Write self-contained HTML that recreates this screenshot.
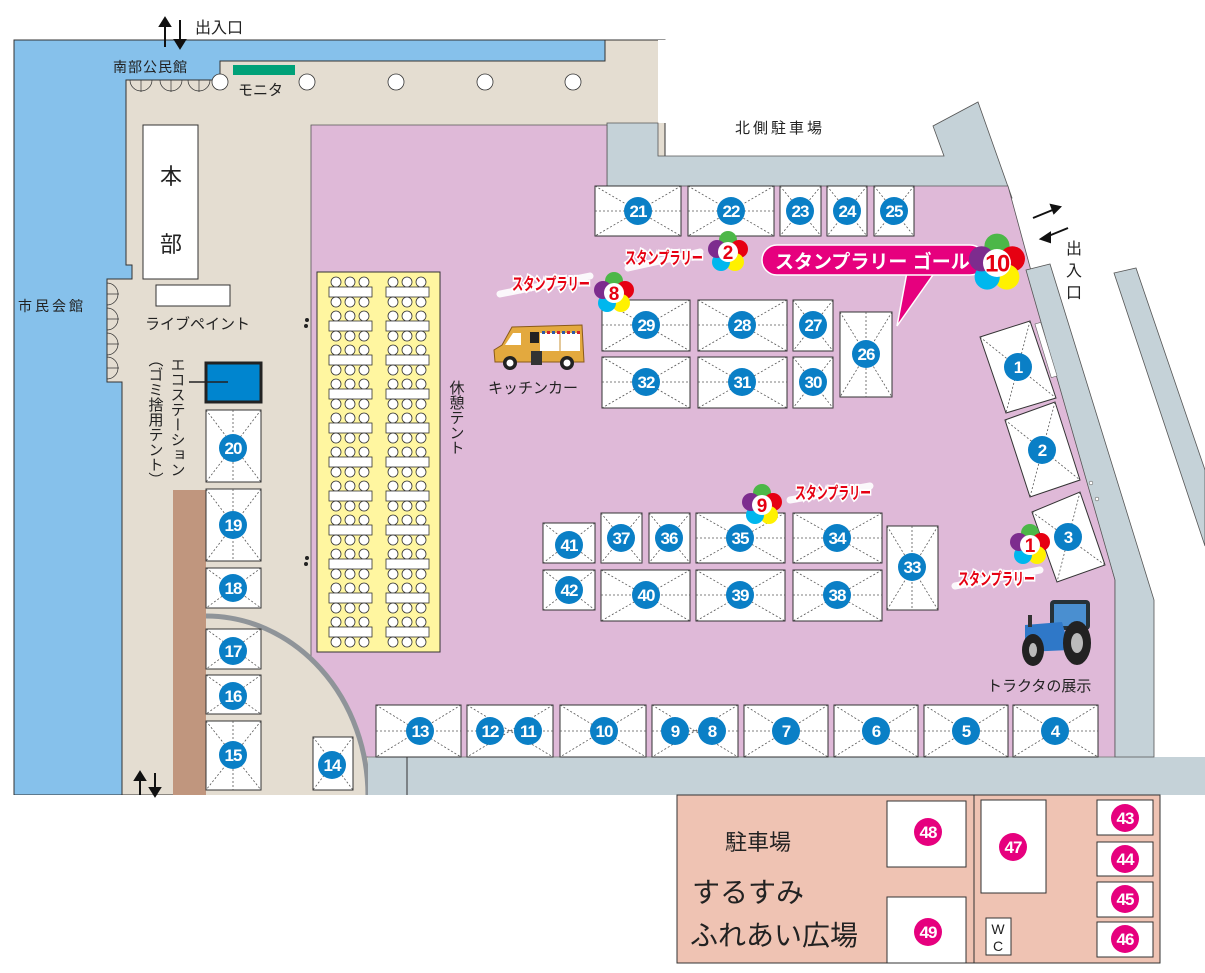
<!DOCTYPE html>
<html><head><meta charset="utf-8"><style>
html,body{margin:0;padding:0;background:#fff}
svg{display:block}
text{font-family:"Liberation Sans","Noto Sans CJK JP",sans-serif}
.n{font-weight:bold;font-size:17px;fill:#fff;text-anchor:middle;letter-spacing:-1px}
.m{font-weight:bold;font-size:17px;fill:#fff;text-anchor:middle;letter-spacing:-1px}
.bx{fill:#fff;stroke:#333;stroke-width:1}
.dg{stroke:#555;stroke-width:0.8;stroke-dasharray:2 2;fill:none}
.sr{font-size:17px;font-weight:bold;fill:#e60012;stroke:#fff;stroke-width:4;paint-order:stroke}
</style></head><body>
<svg width="1205" height="973" viewBox="0 0 1205 973" xmlns="http://www.w3.org/2000/svg">
<defs>
<pattern id="ch1" patternUnits="userSpaceOnUse" x="326" y="276" width="60" height="34">
<circle cx="10" cy="6" r="5" fill="#fff" stroke="#333" stroke-width="0.8"/><circle cx="24" cy="6" r="5" fill="#fff" stroke="#333" stroke-width="0.8"/><circle cx="38" cy="6" r="5" fill="#fff" stroke="#333" stroke-width="0.8"/>
<rect x="3" y="11" width="43" height="10" fill="#fff" stroke="#333" stroke-width="0.8"/>
<circle cx="10" cy="26" r="5" fill="#fff" stroke="#333" stroke-width="0.8"/><circle cx="24" cy="26" r="5" fill="#fff" stroke="#333" stroke-width="0.8"/><circle cx="38" cy="26" r="5" fill="#fff" stroke="#333" stroke-width="0.8"/>
</pattern>
<pattern id="ch2" href="#ch1" x="383" y="276"/>
</defs>

<rect x="14" y="40" width="600" height="755" fill="#86c1eb" stroke="#333" stroke-width="1"/>
<polygon points="126,80 220,80 220,61 605,61 605,40 665,40 665,795 122,795 122,382 107,382 107,279 132,279 132,265 126,265" fill="#e4ddd1" stroke="#333" stroke-width="1"/>
<rect x="606" y="41" width="60" height="20" fill="#e4ddd1"/>
<rect x="658" y="40" width="547" height="83" fill="#fff"/>
<polygon points="607,123 658,123 658,156 944,156 933,126 978,102 1012,198 607,198" fill="#c5d2d8" stroke="#555" stroke-width="0.8"/>
<polygon points="311,125 607,125 607,186 1008,186 1115,580 1115,757 368,757 311,757" fill="#dfb9d8" stroke="#555" stroke-width="0.8"/>
<path d="M206,616 A162 180 0 0 1 368 796 L206 796 Z" fill="#e4ddd1"/>
<path d="M206,616 A162 180 0 0 1 368 796" fill="none" stroke="#8f9499" stroke-width="5"/>
<rect x="368" y="757" width="837" height="38" fill="#c5d2d8"/>
<line x1="368" y1="757" x2="1115" y2="757" stroke="#888" stroke-width="1"/>
<line x1="407" y1="757" x2="407" y2="795" stroke="#333" stroke-width="1"/>
<polygon points="1026,270 1050,264 1154,600 1154,757 1115,757 1115,580" fill="#c5d2d8" stroke="#555" stroke-width="0.8"/>
<polygon points="1114,273 1136,268 1205,470 1205,546" fill="#c5d2d8" stroke="#555" stroke-width="0.8"/>
<rect x="1043" y="322" width="6" height="56" fill="#fff" stroke="#666" stroke-width="0.6" transform="rotate(-17 1046 350)"/>
<circle cx="1091" cy="483" r="1.8" fill="#fff" stroke="#666" stroke-width="0.6"/>
<circle cx="1097" cy="499" r="1.8" fill="#fff" stroke="#666" stroke-width="0.6"/>
<rect x="173" y="490" width="33" height="305" fill="#c0967e"/>
<rect x="0" y="795" width="1205" height="178" fill="#fff"/>

<g fill="none" stroke="#333" stroke-width="0.7">
<path d="M130,80 a11 11 0 0 0 22 0 M141,80 v12"/><path d="M160,80 a11 11 0 0 0 22 0 M171,80 v12"/><path d="M188,80 a11 11 0 0 0 22 0 M199,80 v12"/>
<path d="M107,283 a11 11 0 0 1 0 22 M107,294 h12"/><path d="M107,308 a11 11 0 0 1 0 22 M107,319 h12"/><path d="M107,333 a11 11 0 0 1 0 22 M107,344 h12"/><path d="M107,357 a11 11 0 0 1 0 22 M107,368 h12"/>
</g>
<rect x="233" y="65" width="62" height="10" fill="#00a178"/>
<g fill="#fff" stroke="#333" stroke-width="0.8">
<circle cx="220" cy="82" r="8"/><circle cx="307" cy="82" r="8"/><circle cx="396" cy="82" r="8"/><circle cx="485" cy="82" r="8"/><circle cx="573" cy="82" r="8"/>
</g>
<g stroke="#111" stroke-width="2" fill="#111">
<line x1="165" y1="47" x2="165" y2="24"/><polygon points="160,26 165,18 170,26"/>
<line x1="180" y1="20" x2="180" y2="42"/><polygon points="175,40 180,48 185,40"/>
<line x1="140" y1="795" x2="140" y2="778"/><polygon points="135,780 140,772 145,780"/>
<line x1="155" y1="773" x2="155" y2="790"/><polygon points="150,788 155,796 160,788"/>
<line x1="1033" y1="218" x2="1055" y2="209"/><polygon points="1051,205 1060,207 1054,213"/>
<line x1="1068" y1="228" x2="1046" y2="237"/><polygon points="1050,233 1041,239 1050,242"/>
</g>
<text x="195" y="33" font-size="16" fill="#222">出入口</text>
<text x="113" y="72" font-size="14" fill="#222" letter-spacing="1">南部公民館</text>
<text x="238" y="95" font-size="15" fill="#222">モニタ</text>
<text x="18" y="311" font-size="14" fill="#222" letter-spacing="3">市民会館</text>
<text x="735" y="133" font-size="15" fill="#222" letter-spacing="3">北側駐車場</text>
<text font-size="16" fill="#222" transform="translate(1066,254)"><tspan x="0" y="0">出</tspan><tspan x="0" y="22">入</tspan><tspan x="0" y="44">口</tspan></text>

<rect x="143" y="125" width="55" height="154" fill="#fff" stroke="#333"/>
<text x="160" y="184" font-size="22" fill="#222">本</text>
<text x="160" y="252" font-size="22" fill="#222">部</text>
<rect x="156" y="285" width="74" height="21" fill="#fff" stroke="#333"/>
<text x="145" y="329" font-size="15" fill="#222">ライブペイント</text>
<rect x="206" y="363" width="55" height="39" fill="#0085cf" stroke="#222" stroke-width="3"/>
<line x1="189" y1="382" x2="228" y2="382" stroke="#222" stroke-width="1.5"/>
<text font-size="15" fill="#222" style="writing-mode:vertical-rl" x="177" y="357">エコステーション</text>
<text font-size="15" fill="#222" style="writing-mode:vertical-rl" x="155" y="352">（ゴミ捨用テント）</text>
<rect x="317" y="272" width="123" height="380" fill="#fff6a0" stroke="#333" stroke-width="1"/>
<rect x="326" y="276" width="50" height="374" fill="url(#ch1)"/>
<rect x="383" y="276" width="50" height="374" fill="url(#ch2)"/>
<text font-size="15" fill="#222" style="writing-mode:vertical-rl" x="456" y="380">休憩テント</text>
<g fill="#222"><circle cx="307" cy="320" r="2"/><circle cx="306" cy="326" r="2"/><circle cx="307" cy="558" r="2"/><circle cx="306" cy="564" r="2"/></g>

<g>
<path d="M502,345 L512,327 L582,325 L584,362 L495,362 L494,350 Z" fill="#e3a93e" stroke="#8a5a1a" stroke-width="1"/>
<path d="M505,345 L513,333 L521,333 L521,345 Z" fill="#fff"/>
<rect x="530" y="332" width="9" height="11" fill="#222"/>
<rect x="540" y="333" width="40" height="18" fill="#fff"/>
<line x1="560" y1="333" x2="560" y2="351" stroke="#c89030"/>
<g fill="#2a5aa8"><rect x="542" y="331" width="3" height="3"/><rect x="552" y="331" width="3" height="3"/><rect x="562" y="331" width="3" height="3"/><rect x="572" y="331" width="3" height="3"/></g>
<g fill="#d02030"><rect x="547" y="331" width="3" height="3"/><rect x="557" y="331" width="3" height="3"/><rect x="567" y="331" width="3" height="3"/><rect x="577" y="331" width="3" height="3"/></g>
<rect x="531" y="351" width="11" height="14" fill="#333"/>
<circle cx="510" cy="363" r="7" fill="#222"/><circle cx="510" cy="363" r="3.5" fill="#fff"/>
<circle cx="567" cy="363" r="7" fill="#222"/><circle cx="567" cy="363" r="3.5" fill="#fff"/>
</g>
<text x="488" y="393" font-size="15" fill="#222">キッチンカー</text>

<g>
<rect x="1050" y="600" width="40" height="30" rx="4" fill="#263238"/>
<rect x="1054" y="604" width="32" height="22" fill="#4a8fd0"/>
<path d="M1025,625 L1062,622 L1070,650 L1025,652 Z" fill="#2f78c8"/>
<rect x="1028" y="615" width="4" height="12" fill="#333"/>
<ellipse cx="1077" cy="643" rx="14" ry="22" fill="#222"/>
<ellipse cx="1077" cy="643" rx="6" ry="10" fill="#bbb"/>
<ellipse cx="1033" cy="650" rx="11" ry="16" fill="#222"/>
<ellipse cx="1033" cy="650" rx="4" ry="7" fill="#bbb"/>
</g>
<text x="987" y="691" font-size="15" fill="#222">トラクタの展示</text>

<g id="booths">
<g><rect class="bx" x="595" y="186" width="86" height="50"/><path class="dg" d="M595,186 L681,236 M681,186 L595,236 M595,211 H681"/><circle cx="638" cy="211" r="14" fill="#0a7fc6"/><text class="n" x="638" y="217">21</text></g>
<g><rect class="bx" x="688" y="186" width="86" height="50"/><path class="dg" d="M688,186 L774,236 M774,186 L688,236 M688,211 H774"/><circle cx="731" cy="211" r="14" fill="#0a7fc6"/><text class="n" x="731" y="217">22</text></g>
<g><rect class="bx" x="780" y="186" width="41" height="50"/><path class="dg" d="M780,186 L821,236 M821,186 L780,236"/><circle cx="800" cy="211" r="14" fill="#0a7fc6"/><text class="n" x="800" y="217">23</text></g>
<g><rect class="bx" x="827" y="186" width="40" height="50"/><path class="dg" d="M827,186 L867,236 M867,186 L827,236"/><circle cx="847" cy="211" r="14" fill="#0a7fc6"/><text class="n" x="847" y="217">24</text></g>
<g><rect class="bx" x="874" y="186" width="40" height="50"/><path class="dg" d="M874,186 L914,236 M914,186 L874,236"/><circle cx="894" cy="211" r="14" fill="#0a7fc6"/><text class="n" x="894" y="217">25</text></g>

<g><rect class="bx" x="602" y="300" width="88" height="51"/><path class="dg" d="M602,300 L690,351 M690,300 L602,351 M602,325 H690"/><circle cx="646" cy="325" r="14" fill="#0a7fc6"/><text class="n" x="646" y="331">29</text></g>
<g><rect class="bx" x="698" y="300" width="89" height="51"/><path class="dg" d="M698,300 L787,351 M787,300 L698,351 M698,325 H787"/><circle cx="742" cy="325" r="14" fill="#0a7fc6"/><text class="n" x="742" y="331">28</text></g>
<g><rect class="bx" x="793" y="300" width="40" height="51"/><path class="dg" d="M793,300 L833,351 M833,300 L793,351"/><circle cx="813" cy="325" r="14" fill="#0a7fc6"/><text class="n" x="813" y="331">27</text></g>
<g><rect class="bx" x="602" y="357" width="88" height="51"/><path class="dg" d="M602,357 L690,408 M690,357 L602,408 M602,382 H690"/><circle cx="646" cy="382" r="14" fill="#0a7fc6"/><text class="n" x="646" y="388">32</text></g>
<g><rect class="bx" x="698" y="357" width="89" height="51"/><path class="dg" d="M698,357 L787,408 M787,357 L698,408 M698,382 H787"/><circle cx="742" cy="382" r="14" fill="#0a7fc6"/><text class="n" x="742" y="388">31</text></g>
<g><rect class="bx" x="793" y="357" width="40" height="51"/><path class="dg" d="M793,357 L833,408 M833,357 L793,408"/><circle cx="813" cy="382" r="14" fill="#0a7fc6"/><text class="n" x="813" y="388">30</text></g>
<g><rect class="bx" x="840" y="312" width="52" height="85"/><path class="dg" d="M840,312 L892,397 M892,312 L840,397 M866,312 V397"/><circle cx="866" cy="354" r="14" fill="#0a7fc6"/><text class="n" x="866" y="360">26</text></g>

<g><rect class="bx" x="543" y="523" width="52" height="40"/><path class="dg" d="M543,523 L595,563 M595,523 L543,563"/><circle cx="569" cy="545" r="14" fill="#0a7fc6"/><text class="n" x="569" y="551">41</text></g>
<g><rect class="bx" x="601" y="513" width="41" height="50"/><path class="dg" d="M601,513 L642,563 M642,513 L601,563"/><circle cx="621" cy="538" r="14" fill="#0a7fc6"/><text class="n" x="621" y="544">37</text></g>
<g><rect class="bx" x="649" y="513" width="41" height="50"/><path class="dg" d="M649,513 L690,563 M690,513 L649,563"/><circle cx="669" cy="538" r="14" fill="#0a7fc6"/><text class="n" x="669" y="544">36</text></g>
<g><rect class="bx" x="696" y="513" width="89" height="50"/><path class="dg" d="M696,513 L785,563 M785,513 L696,563 M696,538 H785"/><circle cx="740" cy="538" r="14" fill="#0a7fc6"/><text class="n" x="740" y="544">35</text></g>
<g><rect class="bx" x="793" y="513" width="89" height="50"/><path class="dg" d="M793,513 L882,563 M882,513 L793,563 M793,538 H882"/><circle cx="837" cy="538" r="14" fill="#0a7fc6"/><text class="n" x="837" y="544">34</text></g>
<g><rect class="bx" x="543" y="570" width="52" height="40"/><path class="dg" d="M543,570 L595,610 M595,570 L543,610"/><circle cx="569" cy="590" r="14" fill="#0a7fc6"/><text class="n" x="569" y="596">42</text></g>
<g><rect class="bx" x="601" y="570" width="89" height="51"/><path class="dg" d="M601,570 L690,621 M690,570 L601,621 M601,595 H690"/><circle cx="646" cy="595" r="14" fill="#0a7fc6"/><text class="n" x="646" y="601">40</text></g>
<g><rect class="bx" x="696" y="570" width="89" height="51"/><path class="dg" d="M696,570 L785,621 M785,570 L696,621 M696,595 H785"/><circle cx="740" cy="595" r="14" fill="#0a7fc6"/><text class="n" x="740" y="601">39</text></g>
<g><rect class="bx" x="793" y="570" width="89" height="51"/><path class="dg" d="M793,570 L882,621 M882,570 L793,621 M793,595 H882"/><circle cx="837" cy="595" r="14" fill="#0a7fc6"/><text class="n" x="837" y="601">38</text></g>
<g><rect class="bx" x="887" y="526" width="51" height="84"/><path class="dg" d="M887,526 L938,610 M938,526 L887,610 M912,526 V610"/><circle cx="912" cy="567" r="14" fill="#0a7fc6"/><text class="n" x="912" y="573">33</text></g>

<g><rect class="bx" x="206" y="410" width="55" height="72"/><path class="dg" d="M206,410 L261,482 M261,410 L206,482 M233,410 V482"/><circle cx="233" cy="448" r="14" fill="#0a7fc6"/><text class="n" x="233" y="454">20</text></g>
<g><rect class="bx" x="206" y="489" width="55" height="72"/><path class="dg" d="M206,489 L261,561 M261,489 L206,561 M233,489 V561"/><circle cx="233" cy="525" r="14" fill="#0a7fc6"/><text class="n" x="233" y="531">19</text></g>
<g><rect class="bx" x="206" y="568" width="55" height="40"/><path class="dg" d="M206,568 L261,608 M261,568 L206,608"/><circle cx="233" cy="588" r="14" fill="#0a7fc6"/><text class="n" x="233" y="594">18</text></g>
<g><rect class="bx" x="206" y="629" width="55" height="40"/><path class="dg" d="M206,629 L261,669 M261,629 L206,669"/><circle cx="233" cy="651" r="14" fill="#0a7fc6"/><text class="n" x="233" y="657">17</text></g>
<g><rect class="bx" x="206" y="675" width="55" height="39"/><path class="dg" d="M206,675 L261,714 M261,675 L206,714"/><circle cx="233" cy="696" r="14" fill="#0a7fc6"/><text class="n" x="233" y="702">16</text></g>
<g><rect class="bx" x="206" y="721" width="55" height="69"/><path class="dg" d="M206,721 L261,790 M261,721 L206,790 M233,721 V790"/><circle cx="233" cy="755" r="14" fill="#0a7fc6"/><text class="n" x="233" y="761">15</text></g>
<g><rect class="bx" x="313" y="737" width="40" height="53"/><path class="dg" d="M313,737 L353,790 M353,737 L313,790"/><circle cx="332" cy="765" r="14" fill="#0a7fc6"/><text class="n" x="332" y="771">14</text></g>

<g><rect class="bx" x="376" y="705" width="85" height="52"/><path class="dg" d="M376,705 L461,757 M461,705 L376,757 M376,731 H461"/><circle cx="420" cy="731" r="14" fill="#0a7fc6"/><text class="n" x="420" y="737">13</text></g>
<g><rect class="bx" x="467" y="705" width="86" height="52"/><path class="dg" d="M467,705 L553,757 M553,705 L467,757 M467,731 H553"/><circle cx="490" cy="731" r="14" fill="#0a7fc6"/><text class="n" x="490" y="737">12</text><circle cx="528" cy="731" r="14" fill="#0a7fc6"/><text class="n" x="528" y="737">11</text></g>
<g><rect class="bx" x="560" y="705" width="86" height="52"/><path class="dg" d="M560,705 L646,757 M646,705 L560,757 M560,731 H646"/><circle cx="604" cy="731" r="14" fill="#0a7fc6"/><text class="n" x="604" y="737">10</text></g>
<g><rect class="bx" x="652" y="705" width="86" height="52"/><path class="dg" d="M652,705 L738,757 M738,705 L652,757 M652,731 H738"/><circle cx="675" cy="731" r="14" fill="#0a7fc6"/><text class="n" x="675" y="737">9</text><circle cx="712" cy="731" r="14" fill="#0a7fc6"/><text class="n" x="712" y="737">8</text></g>
<g><rect class="bx" x="744" y="705" width="84" height="52"/><path class="dg" d="M744,705 L828,757 M828,705 L744,757 M744,731 H828"/><circle cx="786" cy="731" r="14" fill="#0a7fc6"/><text class="n" x="786" y="737">7</text></g>
<g><rect class="bx" x="834" y="705" width="84" height="52"/><path class="dg" d="M834,705 L918,757 M918,705 L834,757 M834,731 H918"/><circle cx="876" cy="731" r="14" fill="#0a7fc6"/><text class="n" x="876" y="737">6</text></g>
<g><rect class="bx" x="924" y="705" width="84" height="52"/><path class="dg" d="M924,705 L1008,757 M1008,705 L924,757 M924,731 H1008"/><circle cx="966" cy="731" r="14" fill="#0a7fc6"/><text class="n" x="966" y="737">5</text></g>
<g><rect class="bx" x="1013" y="705" width="85" height="52"/><path class="dg" d="M1013,705 L1098,757 M1098,705 L1013,757 M1013,731 H1098"/><circle cx="1055" cy="731" r="14" fill="#0a7fc6"/><text class="n" x="1055" y="737">4</text></g>

<g><polygon class="bx" points="980,337 1030,321 1056,398 1006,413"/><path class="dg" d="M980,337 L1056,398 M1030,321 L1006,413"/><circle cx="1018" cy="367" r="14" fill="#0a7fc6"/><text class="n" x="1018" y="373">1</text></g>
<g><polygon class="bx" points="1005,420 1055,402 1080,480 1030,497"/><path class="dg" d="M1005,420 L1080,480 M1055,402 L1030,497"/><circle cx="1042" cy="450" r="14" fill="#0a7fc6"/><text class="n" x="1042" y="456">2</text></g>
<g><polygon class="bx" points="1032,512 1080,492 1105,565 1057,582"/><path class="dg" d="M1032,512 L1105,565 M1080,492 L1057,582"/><circle cx="1068" cy="537" r="14" fill="#0a7fc6"/><text class="n" x="1068" y="543">3</text></g>
</g>

<g stroke="#fff" stroke-width="7" stroke-linecap="round" opacity="0.9">
<line x1="628" y1="268" x2="700" y2="252"/><line x1="500" y1="294" x2="590" y2="276"/><line x1="790" y1="500" x2="870" y2="486"/><line x1="955" y1="586" x2="1040" y2="570"/>
</g>
<text class="sr" x="625" y="264" textLength="78" lengthAdjust="spacingAndGlyphs">スタンプラリー</text>
<text class="sr" x="512" y="290" textLength="78" lengthAdjust="spacingAndGlyphs">スタンプラリー</text>
<text class="sr" x="795" y="499" textLength="76" lengthAdjust="spacingAndGlyphs">スタンプラリー</text>
<text class="sr" x="958" y="585" textLength="77" lengthAdjust="spacingAndGlyphs">スタンプラリー</text>

<polygon points="907,272 935,272 897,326" fill="#e6007e" stroke="#fff" stroke-width="1.5"/>
<rect x="762" y="245" width="223" height="30" rx="15" fill="#e6007e" stroke="#fff" stroke-width="1.5"/>
<rect x="900" y="268" width="40" height="6" fill="#e6007e"/>
<text x="775" y="268" font-size="19" font-weight="bold" fill="#fff">スタンプラリー ゴール</text>

<g transform="translate(728,252)"><circle cx="0" cy="-12" r="9" fill="#4cb748"/><circle cx="11" cy="-3" r="9" fill="#e60012"/><circle cx="7" cy="10" r="9" fill="#fff100"/><circle cx="-7" cy="10" r="9" fill="#00b7ee"/><circle cx="-11" cy="-3" r="9" fill="#7d2c8e"/><circle r="10" fill="#fff"/><text x="0" y="7" font-size="19" font-weight="bold" fill="#e60012" text-anchor="middle">2</text></g>
<g transform="translate(614,293)"><circle cx="0" cy="-12" r="9" fill="#4cb748"/><circle cx="11" cy="-3" r="9" fill="#e60012"/><circle cx="7" cy="10" r="9" fill="#fff100"/><circle cx="-7" cy="10" r="9" fill="#00b7ee"/><circle cx="-11" cy="-3" r="9" fill="#7d2c8e"/><circle r="10" fill="#fff"/><text x="0" y="7" font-size="19" font-weight="bold" fill="#e60012" text-anchor="middle">8</text></g>
<g transform="translate(762,505)"><circle cx="0" cy="-12" r="9" fill="#4cb748"/><circle cx="11" cy="-3" r="9" fill="#e60012"/><circle cx="7" cy="10" r="9" fill="#fff100"/><circle cx="-7" cy="10" r="9" fill="#00b7ee"/><circle cx="-11" cy="-3" r="9" fill="#7d2c8e"/><circle r="10" fill="#fff"/><text x="0" y="7" font-size="19" font-weight="bold" fill="#e60012" text-anchor="middle">9</text></g>
<g transform="translate(1030,545)"><circle cx="0" cy="-12" r="9" fill="#4cb748"/><circle cx="11" cy="-3" r="9" fill="#e60012"/><circle cx="7" cy="10" r="9" fill="#fff100"/><circle cx="-7" cy="10" r="9" fill="#00b7ee"/><circle cx="-11" cy="-3" r="9" fill="#7d2c8e"/><circle r="10" fill="#fff"/><text x="0" y="7" font-size="19" font-weight="bold" fill="#e60012" text-anchor="middle">1</text></g>
<g transform="translate(997,263) scale(1.4)"><circle cx="0" cy="-12" r="9" fill="#4cb748"/><circle cx="11" cy="-3" r="9" fill="#e60012"/><circle cx="7" cy="10" r="9" fill="#fff100"/><circle cx="-7" cy="10" r="9" fill="#00b7ee"/><circle cx="-11" cy="-3" r="9" fill="#7d2c8e"/><circle r="10" fill="#fff"/><text x="0" y="6" font-size="17" font-weight="bold" fill="#e60012" text-anchor="middle" letter-spacing="-1">10</text></g>

<rect x="677" y="795" width="483" height="168" fill="#efc3b3" stroke="#333" stroke-width="1"/>
<line x1="974" y1="795" x2="974" y2="963" stroke="#333" stroke-width="1"/>
<rect x="887" y="801" width="79" height="66" class="bx"/>
<rect x="887" y="897" width="79" height="66" class="bx"/>
<rect x="981" y="800" width="65" height="93" class="bx"/>
<rect x="1097" y="800" width="56" height="35" class="bx"/>
<rect x="1097" y="842" width="56" height="34" class="bx"/>
<rect x="1097" y="882" width="56" height="35" class="bx"/>
<rect x="1097" y="922" width="56" height="35" class="bx"/>
<rect x="986" y="918" width="25" height="37" class="bx"/>
<text x="998" y="934" font-size="14" fill="#222" text-anchor="middle">W</text>
<text x="998" y="951" font-size="14" fill="#222" text-anchor="middle">C</text>
<g fill="#e6007e">
<circle cx="928" cy="832" r="14"/><circle cx="928" cy="932" r="14"/><circle cx="1013" cy="847" r="14"/>
<circle cx="1125" cy="818" r="14"/><circle cx="1125" cy="859" r="14"/><circle cx="1125" cy="899" r="14"/><circle cx="1125" cy="939" r="14"/>
</g>
<text class="m" x="928" y="838">48</text><text class="m" x="928" y="938">49</text><text class="m" x="1013" y="853">47</text>
<text class="m" x="1125" y="824">43</text><text class="m" x="1125" y="865">44</text><text class="m" x="1125" y="905">45</text><text class="m" x="1125" y="945">46</text>
<text x="725" y="850" font-size="22" fill="#222">駐車場</text>
<text x="692" y="902" font-size="28" fill="#222">するすみ</text>
<text x="690" y="945" font-size="28" fill="#222">ふれあい広場</text>
</svg>
</body></html>
